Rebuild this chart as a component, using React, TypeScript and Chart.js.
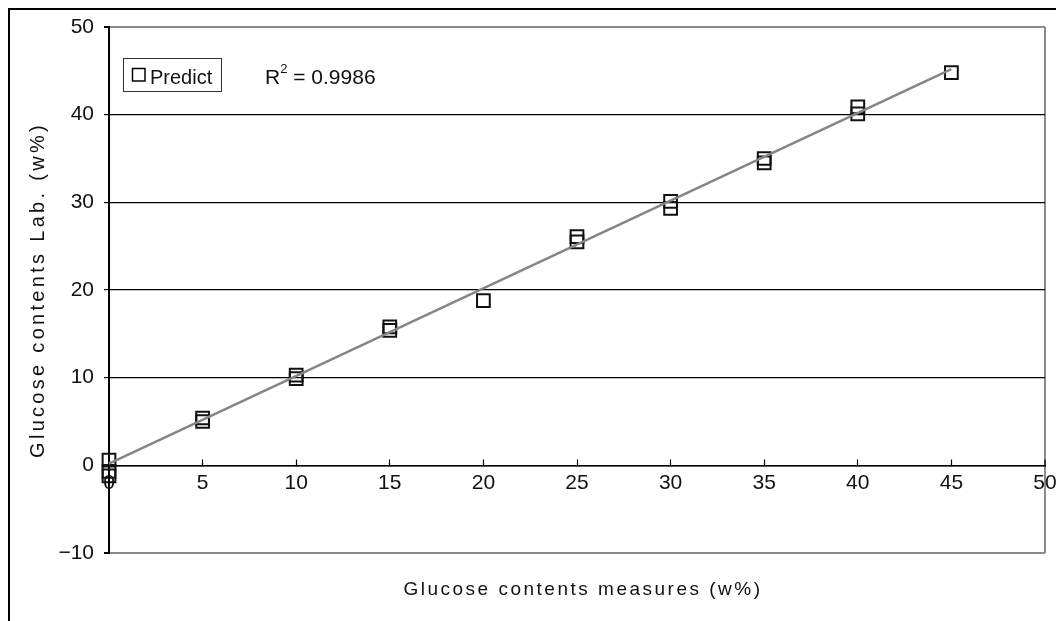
import React, { useEffect, useRef } from "react";
import { Chart, registerables } from "chart.js";

Chart.register(...registerables);

// Measured glucose (x) vs. lab glucose (y), w%
const measured = [0, 0, 0, 5, 5, 10, 10, 15, 15, 20, 25, 25, 30, 30, 35, 35, 40, 40, 45];
const lab = [0.6, -0.7, -1.2, 5.4, 5.0, 10.3, 9.9, 15.4, 15.8, 18.8, 26.1, 25.5, 30.1, 29.3, 35.0, 34.5, 40.9, 40.1, 44.8];

// Linear trend line end points
const fitX = [0, 45];
const fitY = [0.2, 45.2];

const xTicks = [0, 5, 10, 15, 20, 25, 30, 35, 40, 45, 50];
const yTicks = [-10, 0, 10, 20, 30, 40, 50];

const seriesName = "Predict";
const r2Text = "0.9986";
const xTitle = "Glucose contents measures (w%)";
const yTitle = "Glucose contents Lab. (w%)";

const FONT = "'Liberation Sans', Arial, sans-serif";

// Negative tick values use a proper minus sign
const fmt = (v: number) => (v < 0 ? "\u2212" + Math.abs(v) : String(v));

const decorations = {
  id: "decorations",
  beforeDraw(chart: any) {
    const { ctx } = chart;
    ctx.save();
    ctx.fillStyle = "#fff";
    ctx.fillRect(0, 0, chart.width, chart.height);
    ctx.strokeStyle = "#000";
    ctx.lineWidth = 2;
    ctx.strokeRect(9, 9, chart.width + 20, chart.height + 20);
    ctx.restore();
  },
  afterDraw(chart: any) {
    const { ctx } = chart;
    ctx.save();

    // Legend box
    ctx.strokeStyle = "#333";
    ctx.lineWidth = 1;
    ctx.strokeRect(123.5, 58.5, 98, 33);
    ctx.strokeStyle = "#000";
    ctx.lineWidth = 1.5;
    ctx.strokeRect(132.5, 68.5, 12.5, 12.5);
    ctx.fillStyle = "#111";
    ctx.font = `20px ${FONT}`;
    ctx.textBaseline = "alphabetic";
    ctx.textAlign = "left";
    ctx.fillText(seriesName, 150, 84);

    // R squared
    ctx.font = `21px ${FONT}`;
    ctx.fillText("R", 265, 84);
    const rw = ctx.measureText("R").width;
    ctx.font = `13px ${FONT}`;
    ctx.fillText("2", 265 + rw, 73);
    const sw = ctx.measureText("2").width;
    ctx.font = `21px ${FONT}`;
    ctx.fillText(" = " + r2Text, 265 + rw + sw, 84);

    // Axis titles
    ctx.fillStyle = "#111";
    ctx.font = `19px ${FONT}`;
    (ctx as any).letterSpacing = "2.5px";
    ctx.textAlign = "center";
    ctx.textBaseline = "middle";
    ctx.fillText(xTitle, 583, 590);

    (ctx as any).letterSpacing = "3.3px";
    ctx.font = `20px ${FONT}`;
    ctx.translate(38, 290);
    ctx.rotate(-Math.PI / 2);
    ctx.fillText(yTitle, 0, 0);
    ctx.restore();
  },
};

export default function App() {
  const ref = useRef<HTMLCanvasElement | null>(null);

  useEffect(() => {
    if (!ref.current) return;
    const chart = new Chart(ref.current, {
      type: "scatter",
      data: {
        datasets: [
          {
            type: "line",
            label: "fit",
            data: fitX.map((x, i) => ({ x, y: fitY[i] })),
            borderColor: "#858585",
            borderWidth: 2.5,
            pointRadius: 0,
            fill: false,
            order: 0,
            clip: false as any,
          },
          {
            label: seriesName,
            data: measured.map((x, i) => ({ x, y: lab[i] })),
            pointStyle: "rect",
            pointRadius: 9,
            pointBorderWidth: 2,
            borderColor: "#111",
            backgroundColor: "rgba(0,0,0,0)",
            order: 1,
            clip: false as any,
          },
        ],
      },
      options: {
        responsive: false,
        animation: false,
        layout: { padding: { left: 0, top: 27, right: 10, bottom: 68 } },
        plugins: {
          legend: { display: false },
          tooltip: { enabled: false },
        },
        scales: {
          x: {
            type: "linear",
            position: { y: 0 } as any,
            min: 0,
            max: 50,
            afterBuildTicks: (s: any) => {
              s.ticks = xTicks.map((v) => ({ value: v }));
            },
            afterFit: (s: any) => {
              s.paddingLeft = 0;
              s.paddingRight = 0;
            },
            ticks: {
              color: "#111",
              font: { family: FONT, size: 21 },
              padding: 12,
              maxRotation: 0,
              autoSkip: false,
              callback: (v: any) => fmt(Number(v)),
            },
            grid: {
              drawOnChartArea: true,
              color: (c: any) => (c.tick && c.tick.value === 50 ? "#8a8a8a" : "rgba(0,0,0,0)"),
              lineWidth: (c: any) => (c.tick && c.tick.value === 50 ? 2 : 1),
              tickColor: "#000",
              tickLength: -7,
              tickWidth: 1.2,
            },
            border: { display: true, color: "#000", width: 1.5 },
          },
          y: {
            type: "linear",
            position: "left",
            min: -10,
            max: 50,
            afterBuildTicks: (s: any) => {
              s.ticks = yTicks.map((v) => ({ value: v }));
            },
            afterFit: (s: any) => {
              s.width = 109;
            },
            ticks: {
              color: "#111",
              font: { family: FONT, size: 21 },
              padding: 10,
              callback: (v: any) => fmt(Number(v)),
            },
            grid: {
              color: (c: any) =>
                c.tick && (c.tick.value === 50 || c.tick.value === -10) ? "#8a8a8a" : "#000",
              lineWidth: (c: any) =>
                c.tick && (c.tick.value === 50 || c.tick.value === -10) ? 2 : 1.2,
              tickColor: "#000",
              tickLength: 5,
            },
            border: { display: true, color: "#000", width: 2 },
          },
        },
      },
      plugins: [decorations],
    });
    return () => chart.destroy();
  }, []);

  return (
    <div style={{ position: "fixed", left: 0, top: 0, width: 1056, height: 621, background: "#fff" }}>
      <canvas ref={ref} width={1056} height={621} style={{ width: 1056, height: 621, display: "block" }} />
    </div>
  );
}
